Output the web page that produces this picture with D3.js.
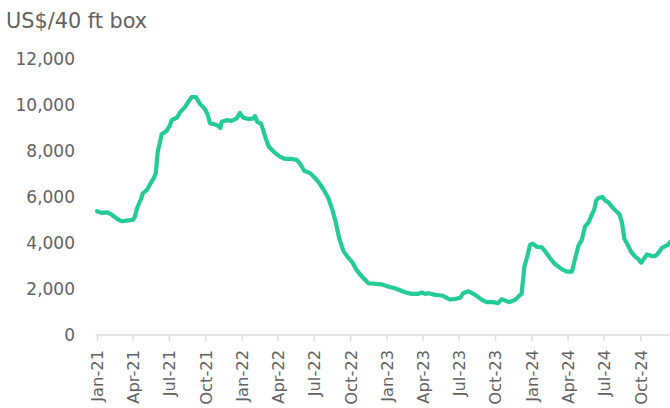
<!DOCTYPE html>
<html>
<head>
<meta charset="utf-8">
<script src="https://cdn.jsdelivr.net/npm/d3@7"></script>
<style>
  body { margin: 0; background: #fff; }
  svg { display: block; font-family: "DejaVu Sans", Inter, sans-serif; }
</style>
</head>
<body>
<svg id="chart" width="670" height="408"></svg>
<script>
// Weekly freight rate, US$ per 40 ft box
const dates = [
  "2021-01-01","2021-01-12","2021-01-27","2021-02-07","2021-02-20","2021-03-04","2021-03-16","2021-04-01",
  "2021-04-06","2021-04-12","2021-04-21","2021-04-27","2021-05-07","2021-05-14","2021-05-24","2021-05-29",
  "2021-06-03","2021-06-08","2021-06-13","2021-06-25","2021-07-04","2021-07-08","2021-07-22","2021-07-29",
  "2021-08-11","2021-08-19","2021-08-28","2021-09-07","2021-09-17","2021-09-30","2021-10-06","2021-10-13",
  "2021-10-25","2021-11-02","2021-11-08","2021-11-11","2021-11-24","2021-12-06","2021-12-19","2021-12-27",
  "2022-01-04","2022-01-17","2022-01-30","2022-02-03","2022-02-09","2022-02-18","2022-02-24","2022-03-02",
  "2022-03-10","2022-03-24","2022-04-07","2022-04-20","2022-05-07","2022-05-19","2022-05-27","2022-06-07",
  "2022-06-22","2022-07-03","2022-07-14","2022-07-25","2022-08-07","2022-08-17","2022-08-26","2022-09-03",
  "2022-09-14","2022-09-26","2022-10-07","2022-10-16","2022-10-26","2022-11-06","2022-11-16","2022-12-19",
  "2023-01-05","2023-01-22","2023-02-16","2023-03-05","2023-03-22","2023-03-30","2023-04-08","2023-04-16",
  "2023-05-03","2023-05-20","2023-06-10","2023-06-22","2023-07-05","2023-07-13","2023-07-26","2023-08-12",
  "2023-08-29","2023-09-10","2023-09-27","2023-10-08","2023-10-18","2023-10-26","2023-11-05","2023-11-21",
  "2023-12-01","2023-12-07","2023-12-14","2023-12-20","2023-12-28","2024-01-04","2024-01-14","2024-01-27",
  "2024-02-04","2024-02-17","2024-02-29","2024-03-17","2024-03-30","2024-04-12","2024-04-20","2024-04-28",
  "2024-05-07","2024-05-15","2024-05-24","2024-06-01","2024-06-07","2024-06-12","2024-06-18","2024-06-28",
  "2024-07-05","2024-07-13","2024-07-22","2024-07-30","2024-08-10","2024-08-16","2024-08-22","2024-08-30",
  "2024-09-07","2024-09-18","2024-09-27","2024-10-03","2024-10-09","2024-10-18","2024-10-30","2024-11-08",
  "2024-11-16","2024-11-25","2024-12-03","2024-12-11","2024-12-15"
];
const rates = [
  5370, 5300, 5320, 5220, 5050, 4935, 4965, 4995,
  5110, 5510, 5870, 6160, 6300, 6520, 6810, 7020,
  7950, 8320, 8710, 8850, 9110, 9325, 9440, 9660,
  9900, 10115, 10330, 10330, 10045, 9800, 9615, 9180,
  9140, 9080, 8990, 9250, 9325, 9295, 9400, 9640,
  9440, 9370, 9400, 9500, 9250, 9180, 8890, 8535,
  8170, 7930, 7740, 7640, 7640, 7600, 7455, 7125,
  7025, 6835, 6620, 6335, 5945, 5440, 4865, 4220,
  3640, 3355, 3140, 2850, 2630, 2420, 2245, 2200,
  2100, 2030, 1855, 1785, 1785, 1845, 1785, 1815,
  1740, 1715, 1540, 1565, 1610, 1815, 1900, 1740,
  1525, 1425, 1425, 1380, 1555, 1500, 1425, 1525,
  1700, 1785, 2965, 3325, 3900, 3970, 3830, 3800,
  3640, 3325, 3080, 2860, 2750, 2750, 3330, 3860,
  4140, 4720, 4880, 5225, 5440, 5840, 5945, 5990,
  5830, 5755, 5555, 5410, 5225, 4865, 4175, 3930,
  3640, 3400, 3280, 3140, 3280, 3495, 3425, 3425,
  3570, 3785, 3855, 3930, 4030
];
const yTicks = [0, 2000, 4000, 6000, 8000, 10000, 12000];
const xTickDates = [
  "2021-01-01","2021-04-01","2021-07-01","2021-10-01",
  "2022-01-01","2022-04-01","2022-07-01","2022-10-01",
  "2023-01-01","2023-04-01","2023-07-01","2023-10-01",
  "2024-01-01","2024-04-01","2024-07-01","2024-10-01"
];
const title = "US$/40 ft box";

const parse = d3.timeParse("%Y-%m-%d");
const data = dates.map((d, i) => ({ date: parse(d), value: rates[i] }));

const svg = d3.select("#chart");
const textColor = "#616161";

const x = d3.scaleTime()
  .domain([parse("2021-01-01"), parse("2024-12-15")])
  .range([97, 670]);
const y = d3.scaleLinear()
  .domain([0, 12000])
  .range([335, 58.5]);

// title
svg.append("text")
  .attr("x", 6)
  .attr("y", 28)
  .attr("fill", textColor)
  .attr("font-size", 20.8)
  .text(title);

// y axis labels (no line)
svg.append("g")
  .selectAll("text")
  .data(yTicks)
  .join("text")
  .attr("x", 75)
  .attr("y", d => y(d))
  .attr("dy", "0.36em")
  .attr("text-anchor", "end")
  .attr("fill", textColor)
  .attr("font-size", 17)
  .text(d => d3.format(",")(d));

// x axis
const xAxis = svg.append("g")
  .attr("transform", `translate(0,${y(0)})`)
  .call(d3.axisBottom(x)
    .tickValues(xTickDates.map(parse))
    .tickFormat(d3.timeFormat("%b-%y"))
    .tickSizeInner(6)
    .tickSizeOuter(0));
xAxis.select(".domain")
  .attr("stroke", "#dcdcdc")
  .attr("stroke-width", 1.5)
  .attr("d", `M95.5,0H670`);
xAxis.selectAll(".tick line")
  .attr("stroke", "#dcdcdc")
  .attr("stroke-width", 1.5);
xAxis.selectAll(".tick text")
  .attr("font-family", "'DejaVu Sans', sans-serif")
  .attr("font-size", 16.3)
  .attr("fill", textColor)
  .attr("text-anchor", "end")
  .attr("transform", "rotate(-90)")
  .attr("x", -15)
  .attr("y", 0)
  .attr("dy", "0.36em");

// line
const line = d3.line()
  .x(d => x(d.date))
  .y(d => y(d.value))
  .curve(d3.curveLinear);

svg.append("path")
  .datum(data)
  .attr("fill", "none")
  .attr("stroke", "#24cb97")
  .attr("stroke-width", 4.2)
  .attr("stroke-linejoin", "round")
  .attr("stroke-linecap", "round")
  .attr("d", line);
</script>
</body>
</html>
